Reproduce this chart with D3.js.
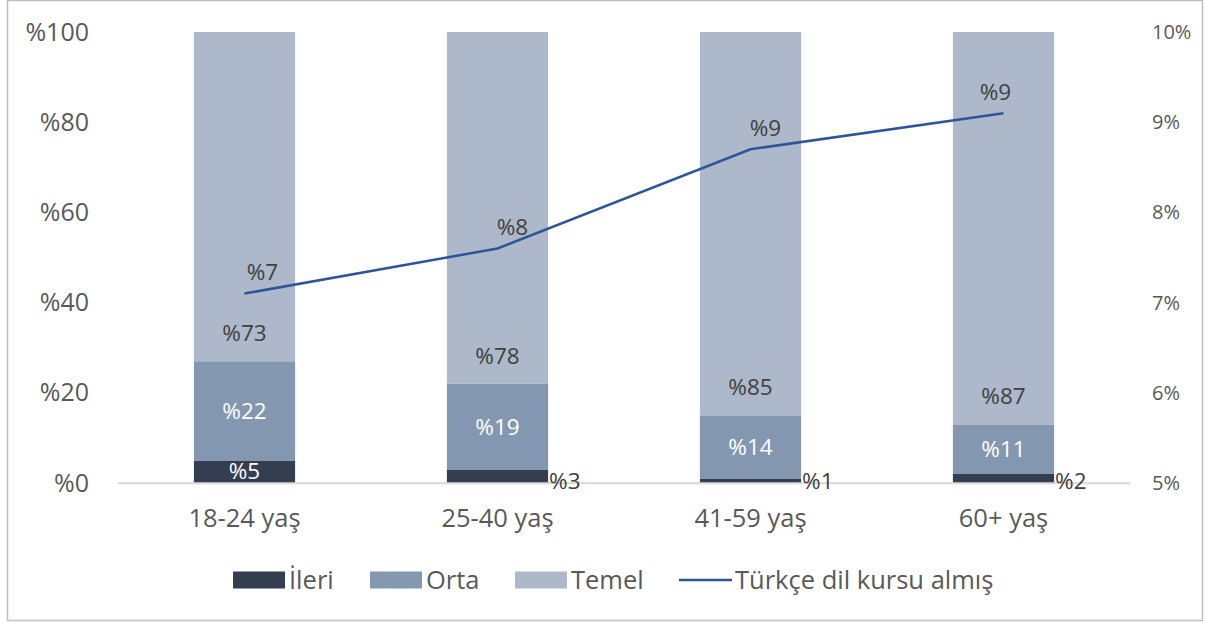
<!DOCTYPE html>
<html>
<head>
<meta charset="utf-8">
<script src="https://cdn.jsdelivr.net/npm/d3@7"></script>
<style>
  body { margin: 0; background: #fff; }
  svg text { font-family: "Open Sans", "Noto Sans", sans-serif; }
</style>
</head>
<body>
<div class="chart"></div>
<script>
// data
var categories = ["18-24 yaş", "25-40 yaş", "41-59 yaş", "60+ yaş"];
var ileri = [5, 3, 1, 2];
var orta = [22, 19, 14, 11];
var temel = [73, 78, 85, 87];
var kursAlmis = [7.1, 7.6, 8.7, 9.1];
var kursLabels = ["%7", "%8", "%9", "%9"];
var leftTicks = [0, 20, 40, 60, 80, 100];
var rightTicks = [5, 6, 7, 8, 9, 10];

var svgWidth = 1205;
var svgHeight = 623;

var margin = { top: 32, right: 75, bottom: 140, left: 118 };
var width = 1130 - margin.left;
var height = 483 - margin.top;

var colors = { ileri: "#333f50", orta: "#8497b0", temel: "#adb9ca", line: "#2f5597" };

var svg = d3.select(".chart")
  .append("svg")
  .attr("width", svgWidth)
  .attr("height", svgHeight);

// outer border
svg.append("rect")
  .attr("x", 7.5).attr("y", 0.5)
  .attr("width", 1195).attr("height", 620)
  .attr("fill", "none")
  .attr("stroke", "#bfbfbf")
  .attr("stroke-width", 1.5);

var chartGroup = svg.append("g")
  .attr("transform", `translate(${margin.left}, ${margin.top})`);

var xScale = d3.scaleBand()
  .domain(categories)
  .range([0, width])
  .paddingInner(0.6)
  .paddingOuter(0.3);

var yLeft = d3.scaleLinear().domain([0, 100]).range([height, 0]);
var yRight = d3.scaleLinear().domain([5, 10]).range([height, 0]);

// stacked data
var rows = categories.map((c, i) => ({ cat: c, ileri: ileri[i], orta: orta[i], temel: temel[i] }));
var stack = d3.stack().keys(["ileri", "orta", "temel"]);
var series = stack(rows);

// axes
var leftAxis = d3.axisLeft(yLeft).tickValues(leftTicks).tickSize(0).tickPadding(29).tickFormat(d => "%" + d);
var rightAxis = d3.axisRight(yRight).tickValues(rightTicks).tickSize(0).tickPadding(22).tickFormat(d => d + "%");
var bottomAxis = d3.axisBottom(xScale).tickSize(0).tickPadding(26);

var gLeft = chartGroup.append("g").call(leftAxis);
gLeft.select(".domain").remove();
gLeft.selectAll("text").style("font-size", "25px").attr("fill", "#595959");

var gRight = chartGroup.append("g")
  .attr("transform", `translate(${width}, 0)`)
  .call(rightAxis);
gRight.select(".domain").remove();
gRight.selectAll("text").style("font-size", "20px").attr("fill", "#595959");

var gBottom = chartGroup.append("g")
  .attr("transform", `translate(0, ${height})`)
  .call(bottomAxis);
gBottom.select(".domain").attr("stroke", "#d9d9d9").attr("stroke-width", 1.5);
gBottom.selectAll("text").style("font-size", "25.5px").attr("fill", "#595959");

// bars
var layers = chartGroup.selectAll(".layer")
  .data(series)
  .enter()
  .append("g")
  .attr("class", "layer")
  .attr("fill", d => colors[d.key]);

layers.selectAll("rect")
  .data(d => d)
  .enter()
  .append("rect")
  .attr("x", d => xScale(d.data.cat))
  .attr("y", d => yLeft(d[1]))
  .attr("width", xScale.bandwidth())
  .attr("height", d => yLeft(d[0]) - yLeft(d[1]));

// baseline over bars
chartGroup.append("line")
  .attr("x1", 0).attr("x2", width)
  .attr("y1", height).attr("y2", height)
  .attr("stroke", "#d9d9d9").attr("stroke-width", 1.5);

// bar labels
var labelGroup = chartGroup.append("g").style("font-size", "22.5px");

// ileri: inside when big enough, otherwise right of the bar
labelGroup.selectAll(".lblIleri")
  .data(rows)
  .enter()
  .append("text")
  .attr("x", d => d.ileri >= 4 ? xScale(d.cat) + xScale.bandwidth() / 2 : xScale(d.cat) + xScale.bandwidth() + 1)
  .attr("y", d => d.ileri >= 4 ? yLeft(d.ileri / 2) - 1 : height - 2)
  .attr("dy", "0.35em")
  .attr("text-anchor", d => d.ileri >= 4 ? "middle" : "start")
  .attr("fill", d => d.ileri >= 4 ? "#ffffff" : "#404040")
  .text(d => "%" + d.ileri);

labelGroup.selectAll(".lblOrta")
  .data(rows)
  .enter()
  .append("text")
  .attr("x", d => xScale(d.cat) + xScale.bandwidth() / 2)
  .attr("y", d => yLeft(d.ileri + d.orta / 2))
  .attr("dy", "0.35em")
  .attr("text-anchor", "middle")
  .attr("fill", "#ffffff")
  .text(d => "%" + d.orta);

labelGroup.selectAll(".lblTemel")
  .data(rows)
  .enter()
  .append("text")
  .attr("x", d => xScale(d.cat) + xScale.bandwidth() / 2)
  .attr("y", d => yLeft(d.ileri + d.orta) - 28)
  .attr("dy", "0.35em")
  .attr("text-anchor", "middle")
  .attr("fill", "#404040")
  .text(d => "%" + d.temel);

// line on the right axis
var line = d3.line()
  .x((d, i) => xScale(categories[i]) + xScale.bandwidth() / 2)
  .y(d => yRight(d));

chartGroup.append("path")
  .datum(kursAlmis)
  .attr("d", line)
  .attr("fill", "none")
  .attr("stroke", colors.line)
  .attr("stroke-width", 2.5);

labelGroup.selectAll(".lblLine")
  .data(kursAlmis)
  .enter()
  .append("text")
  .attr("x", (d, i) => xScale(categories[i]) + xScale.bandwidth() / 2 + (i === 3 ? -8 : (i === 0 ? 18 : 15)))
  .attr("y", d => yRight(d) - 21)
  .attr("dy", "0.35em")
  .attr("text-anchor", "middle")
  .attr("fill", "#404040")
  .text((d, i) => kursLabels[i]);

// legend
var legendItems = [
  { name: "İleri", key: "ileri", type: "rect", x: 233 },
  { name: "Orta", key: "orta", type: "rect", x: 370 },
  { name: "Temel", key: "temel", type: "rect", x: 515 },
  { name: "Türkçe dil kursu almış", key: "line", type: "line", x: 679 }
];

var legend = svg.append("g").attr("transform", "translate(0, 580)");

var legendG = legend.selectAll("g")
  .data(legendItems)
  .enter()
  .append("g")
  .attr("transform", d => `translate(${d.x}, 0)`);

legendG.filter(d => d.type === "rect")
  .append("rect")
  .attr("x", 0).attr("y", -8.5)
  .attr("width", 52).attr("height", 17)
  .attr("fill", d => colors[d.key]);

legendG.filter(d => d.type === "line")
  .append("line")
  .attr("x1", 0).attr("x2", 53)
  .attr("y1", 0).attr("y2", 0)
  .attr("stroke", colors.line)
  .attr("stroke-width", 2.5);

legendG.append("text")
  .attr("x", d => d.type === "line" ? 56 : 56)
  .attr("y", 0)
  .attr("dy", "0.35em")
  .attr("fill", "#595959")
  .style("font-size", "25.5px")
  .text(d => d.name);
</script>
</body>
</html>
